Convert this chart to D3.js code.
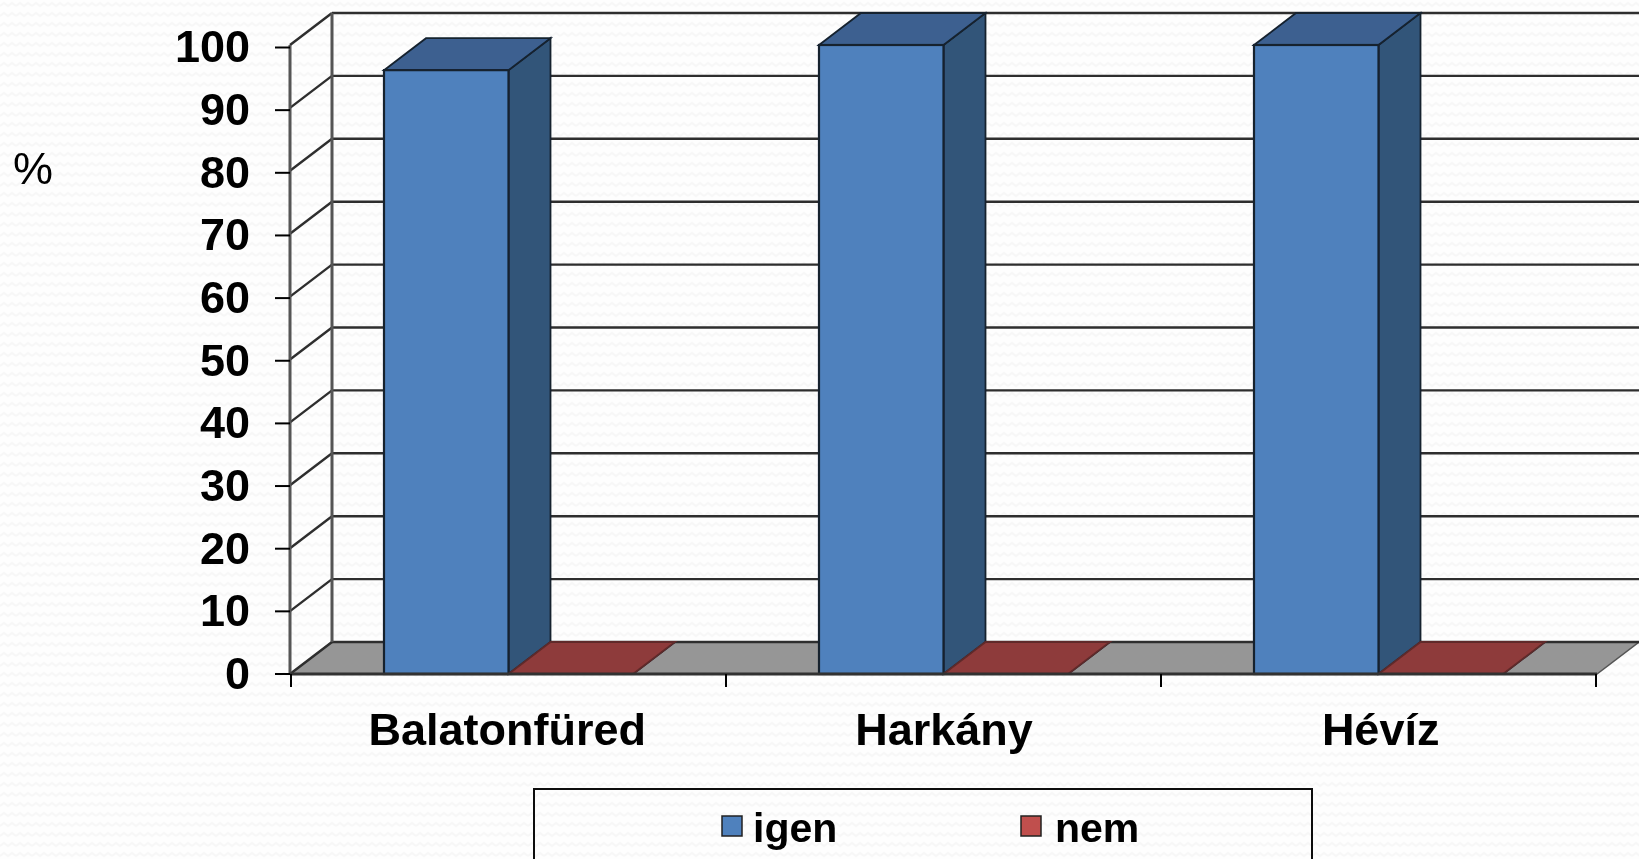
<!DOCTYPE html>
<html>
<head>
<meta charset="utf-8">
<script src="https://d3js.org/d3.v7.min.js"></script>
<style>
  html, body { margin: 0; padding: 0; background: #fefefe; overflow: hidden; }
  text { font-family: "Liberation Sans", Arial, sans-serif; fill: #000; }
</style>
</head>
<body>
<div id="my_dataviz"></div>
<script>
// the values
var categories = ["Balatonfüred", "Harkány", "Hévíz"];
var seriesNames = ["igen", "nem"];
var igen = [96, 100, 100];
var nem = [0, 0, 0];
var tickLabels = [0, 10, 20, 30, 40, 50, 60, 70, 80, 90, 100];

var colors = {
  igen: {front: "#4f81bd", side: "#335479", top: "#3c6190"},
  nem: {front: "#c0504d", side: "#7a3331", top: "#8e3a3a"}
};

var width = 1639, height = 859;

// depth of the fake 3d box
var depthX = 42, depthY = 32;

var svg = d3.select("#my_dataviz")
  .append("svg")
    .attr("width", width)
    .attr("height", height)
    .style("display", "block");

// faint paper texture behind everything
var defs = svg.append("defs");
var pattern = defs.append("pattern")
    .attr("id", "paper")
    .attr("patternUnits", "userSpaceOnUse")
    .attr("width", 16)
    .attr("height", 10);
pattern.append("rect").attr("width", 16).attr("height", 10).attr("fill", "#fefefe");
pattern.append("path")
    .attr("d", "M0 6 L4 3 L8 6 L12 3 L16 6")
    .attr("fill", "none")
    .attr("stroke", "#f7f7f7")
    .attr("stroke-width", 2);

defs.append("filter").attr("id", "soft")
  .append("feGaussianBlur").attr("stdDeviation", 0.6);
defs.append("filter").attr("id", "softText")
  .append("feGaussianBlur").attr("stdDeviation", 0.4);

svg.append("rect")
    .attr("width", width)
    .attr("height", height)
    .attr("fill", "url(#paper)");

// scales
var x = d3.scaleBand()
    .domain(categories)
    .range([291, 1596]);

var x1 = d3.scaleBand()
    .domain(seriesNames)
    .range([0, x.bandwidth()])
    .paddingOuter(0.747)
    .paddingInner(0);

// the labels under the axis are spread slightly wider than the bars
var xLabel = d3.scaleBand()
    .domain(categories)
    .range([289, 1599]);

var y = d3.scaleLinear()
    .domain([0, 100])
    .range([674, 45]);

// the value axis ticks sit a little lower than the wall lines at the top
var yTick = d3.scaleLinear()
    .domain([0, 100])
    .range([674, 47.5]);

var chart = svg.append("g").attr("filter", "url(#soft)");

var wallLeft = x.range()[0] - 1;
var wallRight = x.range()[1] + 1;
var lineColor = "#2e2e2e";

// floor
chart.append("polygon")
    .attr("points", [
      [wallLeft, y(0)],
      [wallLeft + depthX, y(0) - depthY],
      [wallRight + depthX, y(0) - depthY],
      [wallRight, y(0)]
    ].join(" "))
    .attr("fill", "#969696")
    .attr("stroke", "#555")
    .attr("stroke-width", 1.5);

// grid lines on back and side wall
var grid = chart.append("g");
grid.selectAll("line.back")
  .data(tickLabels)
  .enter()
  .append("line")
    .attr("class", "back")
    .attr("x1", wallLeft + depthX)
    .attr("x2", wallRight + depthX)
    .attr("y1", function(d) { return y(d) - depthY })
    .attr("y2", function(d) { return y(d) - depthY })
    .attr("stroke", lineColor)
    .attr("stroke-width", 2.4);

grid.selectAll("line.side")
  .data(tickLabels)
  .enter()
  .append("line")
    .attr("class", "side")
    .attr("x1", wallLeft)
    .attr("x2", wallLeft + depthX)
    .attr("y1", function(d) { return y(d) })
    .attr("y2", function(d) { return y(d) - depthY })
    .attr("stroke", lineColor)
    .attr("stroke-width", 2.4);

grid.append("line")
    .attr("x1", wallLeft).attr("x2", wallLeft)
    .attr("y1", y(100)).attr("y2", y(0))
    .attr("stroke", "#555").attr("stroke-width", 3);
grid.append("line")
    .attr("x1", wallLeft + depthX).attr("x2", wallLeft + depthX)
    .attr("y1", y(100) - depthY).attr("y2", y(0) - depthY)
    .attr("stroke", "#555").attr("stroke-width", 3);

// bars, one group per category
var barData = [];
categories.forEach(function(c, i) {
  barData.push({cat: c, name: "igen", value: igen[i]});
  barData.push({cat: c, name: "nem", value: nem[i]});
});

var bars = chart.selectAll("g.bar")
  .data(barData)
  .enter()
  .append("g")
    .attr("class", "bar");

function barLeft(d) { return x(d.cat) + x1(d.name) }
function barRight(d) { return barLeft(d) + x1.bandwidth() }

// side face
bars.append("polygon")
    .attr("points", function(d) {
      return [
        [barRight(d), y(d.value)],
        [barRight(d) + depthX, y(d.value) - depthY],
        [barRight(d) + depthX, y(0) - depthY],
        [barRight(d), y(0)]
      ].join(" ");
    })
    .attr("fill", function(d) { return colors[d.name].side })
    .attr("stroke", "#14212f")
    .attr("stroke-width", 1.8);

// top face
bars.append("polygon")
    .attr("points", function(d) {
      return [
        [barLeft(d), y(d.value)],
        [barLeft(d) + depthX, y(d.value) - depthY],
        [barRight(d) + depthX, y(d.value) - depthY],
        [barRight(d), y(d.value)]
      ].join(" ");
    })
    .attr("fill", function(d) { return colors[d.name].top })
    .attr("stroke", function(d) { return d.name == "igen" ? "#14212f" : "#5e2a2a" })
    .attr("stroke-width", 1.8);

// front face
bars.append("rect")
    .attr("x", barLeft)
    .attr("y", function(d) { return y(d.value) })
    .attr("width", x1.bandwidth())
    .attr("height", function(d) { return y(0) - y(d.value) })
    .attr("fill", function(d) { return colors[d.name].front })
    .attr("stroke", "#14212f")
    .attr("stroke-width", 2.2);

// front floor edge
chart.append("line")
    .attr("x1", wallLeft).attr("x2", wallRight)
    .attr("y1", y(0)).attr("y2", y(0))
    .attr("stroke", "#333").attr("stroke-width", 3);

var labels = svg.append("g").attr("filter", "url(#softText)");

// value axis
labels.selectAll("line.ytick")
  .data(tickLabels)
  .enter()
  .append("line")
    .attr("class", "ytick")
    .attr("x1", 275)
    .attr("x2", wallLeft)
    .attr("y1", function(d) { return yTick(d) })
    .attr("y2", function(d) { return yTick(d) })
    .attr("stroke", "#000")
    .attr("stroke-width", 2);

labels.selectAll("text.ylabel")
  .data(tickLabels)
  .enter()
  .append("text")
    .attr("class", "ylabel")
    .attr("x", 250)
    .attr("y", function(d) { return yTick(d) })
    .attr("dy", "0.33em")
    .attr("text-anchor", "end")
    .style("font-size", "45px")
    .style("font-weight", "bold")
    .text(function(d) { return d });

// category axis
var tickXs = categories.map(function(c) { return x(c) }).concat([x.range()[1]]);
labels.selectAll("line.xtick")
  .data(tickXs)
  .enter()
  .append("line")
    .attr("class", "xtick")
    .attr("x1", function(d) { return d })
    .attr("x2", function(d) { return d })
    .attr("y1", y(0))
    .attr("y2", 687)
    .attr("stroke", "#000")
    .attr("stroke-width", 2);

labels.selectAll("text.xlabel")
  .data(categories)
  .enter()
  .append("text")
    .attr("class", "xlabel")
    .attr("x", function(d) { return xLabel(d) + xLabel.bandwidth() / 2 })
    .attr("y", 745)
    .attr("text-anchor", "middle")
    .style("font-size", "45px")
    .style("font-weight", "bold")
    .text(function(d) { return d });

// unit label
labels.append("text")
    .attr("x", 13)
    .attr("y", 184)
    .style("font-size", "45px")
    .text("%");

// legend, runs off the bottom of the picture
labels.append("rect")
    .attr("x", 534)
    .attr("y", 789)
    .attr("width", 778)
    .attr("height", 90)
    .attr("fill", "none")
    .attr("stroke", "#111")
    .attr("stroke-width", 2);

var legendX = d3.scaleOrdinal().domain(seriesNames).range([722, 1021]);

var legend = labels.selectAll("g.legend")
  .data(seriesNames)
  .enter()
  .append("g")
    .attr("class", "legend")
    .attr("transform", function(d) { return "translate(" + legendX(d) + ",816)" });

legend.append("rect")
    .attr("width", 20)
    .attr("height", 20)
    .attr("fill", function(d) { return colors[d].front })
    .attr("stroke", "#222")
    .attr("stroke-width", 1.5);

legend.append("text")
    .attr("x", function(d) { return d == "igen" ? 31 : 34 })
    .attr("y", 26)
    .style("font-size", "41px")
    .style("font-weight", "bold")
    .text(function(d) { return d });
</script>
</body>
</html>
